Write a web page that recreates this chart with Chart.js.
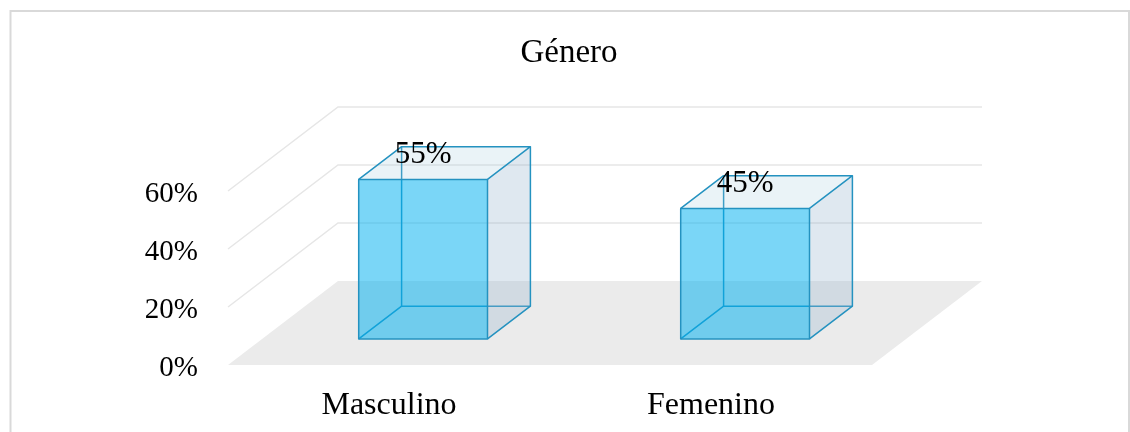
<!DOCTYPE html>
<html lang="es">
<head>
<meta charset="utf-8">
<title>Género</title>
<script src="https://cdn.jsdelivr.net/npm/chart.js@4.4.1/dist/chart.umd.min.js"></script>
<style>
  html, body { margin: 0; padding: 0; background: #fff; }
  canvas { display: block; }
</style>
</head>
<body>
<canvas id="chart" width="1130" height="432"></canvas>
<script>
// Data
const categories = ['Masculino', 'Femenino'];
const shares = [55, 45];            // percent of respondents
const tickValues = [0, 20, 40, 60]; // value axis ticks (percent)
const chartTitle = 'Género';

// Styling / projection
const SERIF = "'Liberation Serif', 'Times New Roman', serif";
const DEPTH = { dx: 110, dy: -84 };     // projected depth of the floor and walls
const BAR_GAP = 0.31, BAR_DEPTH = 0.39; // where a box sits along the depth axis
const EDGE = 'rgb(36,146,192)';

const pct = v => v + '%';

// Draws the pseudo-3D floor, wall gridlines and boxes from the chart's scales
const box3d = {
  id: 'box3d',
  beforeDraw(chart) {
    const ctx = chart.ctx;
    ctx.save();
    ctx.strokeStyle = '#d9d9d9';
    ctx.lineWidth = 2;
    ctx.strokeRect(10.5, 11, 1118.5, 440);
    ctx.restore();
  },
  beforeDatasetsDraw(chart) {
    const { ctx, chartArea: a, scales: { y } } = chart;
    const y0 = y.getPixelForValue(0);
    ctx.save();
    // floor
    ctx.fillStyle = '#ebebeb';
    ctx.beginPath();
    ctx.moveTo(a.left, y0);
    ctx.lineTo(a.right, y0);
    ctx.lineTo(a.right + DEPTH.dx, y0 + DEPTH.dy);
    ctx.lineTo(a.left + DEPTH.dx, y0 + DEPTH.dy);
    ctx.closePath();
    ctx.fill();
    // gridlines on the side wall and back wall
    ctx.strokeStyle = '#e6e6e6';
    ctx.lineWidth = 1.5;
    for (const v of tickValues) {
      if (v === 0) continue;
      const py = y.getPixelForValue(v);
      ctx.beginPath();
      ctx.moveTo(a.left, py);
      ctx.lineTo(a.left + DEPTH.dx, py + DEPTH.dy);
      ctx.lineTo(a.right + DEPTH.dx, py + DEPTH.dy);
      ctx.stroke();
    }
    ctx.restore();
  },
  afterDatasetsDraw(chart) {
    const ctx = chart.ctx;
    const meta = chart.getDatasetMeta(0);
    const ox = DEPTH.dx * BAR_GAP, oy = DEPTH.dy * BAR_GAP;
    const bx = DEPTH.dx * BAR_DEPTH, by = DEPTH.dy * BAR_DEPTH;
    const line = (pts) => {
      ctx.beginPath();
      ctx.moveTo(pts[0][0], pts[0][1]);
      for (let k = 1; k < pts.length; k++) ctx.lineTo(pts[k][0], pts[k][1]);
    };
    ctx.save();
    ctx.lineJoin = 'round';
    meta.data.forEach((bar, i) => {
      const { x, y: top, base, width } = bar.getProps(['x', 'y', 'base', 'width'], true);
      const x0 = x - width / 2 + ox, x1 = x + width / 2 + ox;
      const yt = top + oy, yb = base + oy;

      // hidden edges, seen through the translucent faces
      ctx.strokeStyle = EDGE;
      ctx.lineWidth = 1.5;
      line([[x0, yb], [x0 + bx, yb + by], [x1 + bx, yb + by]]); ctx.stroke();
      line([[x0 + bx, yb + by], [x0 + bx, yt + by]]); ctx.stroke();

      // right side face
      ctx.fillStyle = 'rgba(150,180,205,0.3)';
      line([[x1, yb], [x1 + bx, yb + by], [x1 + bx, yt + by], [x1, yt]]);
      ctx.closePath(); ctx.fill();
      // top face
      ctx.fillStyle = 'rgba(160,200,220,0.22)';
      line([[x0, yt], [x1, yt], [x1 + bx, yt + by], [x0 + bx, yt + by]]);
      ctx.closePath(); ctx.fill();
      // front face
      ctx.fillStyle = 'rgba(0,176,240,0.52)';
      ctx.fillRect(x0, yt, x1 - x0, yb - yt);

      // visible edges
      ctx.strokeStyle = EDGE;
      ctx.lineWidth = 1.5;
      ctx.strokeRect(x0, yt, x1 - x0, yb - yt);
      line([[x0, yt], [x0 + bx, yt + by], [x1 + bx, yt + by], [x1, yt]]); ctx.stroke();
      line([[x1 + bx, yt + by], [x1 + bx, yb + by], [x1, yb]]); ctx.stroke();

      // value label
      ctx.fillStyle = '#000';
      ctx.font = '31px ' + SERIF;
      ctx.textAlign = 'center';
      ctx.textBaseline = 'alphabetic';
      ctx.fillText(pct(shares[i]), x + ox, yt + by / 2);
    });
    ctx.restore();
  }
};

Chart.defaults.font.family = SERIF;
Chart.defaults.color = '#000';

new Chart(document.getElementById('chart'), {
  type: 'bar',
  data: {
    labels: categories,
    datasets: [{
      label: chartTitle,
      data: shares,
      backgroundColor: 'rgba(0,0,0,0)',
      borderWidth: 0,
      barPercentage: 0.4,
      categoryPercentage: 1
    }]
  },
  options: {
    responsive: false,
    animation: false,
    layout: { padding: { left: 8, right: 0, top: 0, bottom: 0 } },
    plugins: {
      legend: { display: false },
      tooltip: { enabled: false },
      title: {
        display: true,
        text: chartTitle,
        color: '#000',
        font: { family: SERIF, size: 33, weight: 'normal' },
        padding: { top: 34, bottom: 117.4 }
      }
    },
    scales: {
      x: {
        grid: { display: false, drawTicks: false },
        border: { display: false },
        ticks: { font: { size: 32 }, color: '#000', padding: 21, maxRotation: 0 },
        afterFit: s => { s.height = 67; }
      },
      y: {
        position: 'left',
        min: 0,
        max: 60,
        grid: { display: false, drawTicks: false },
        border: { display: false },
        ticks: { font: { size: 29 }, color: '#000', padding: 30, labelOffset: 3, callback: pct },
        afterBuildTicks: s => { s.ticks = tickValues.map(v => ({ value: v })); },
        afterFit: s => { s.width = 220; }
      },
      depthRoom: {
        type: 'linear',
        position: 'right',
        display: true,
        grid: { display: false, drawTicks: false },
        border: { display: false },
        ticks: { display: false },
        afterFit: s => { s.width = 258; }
      }
    }
  },
  plugins: [box3d]
});
</script>
</body>
</html>
